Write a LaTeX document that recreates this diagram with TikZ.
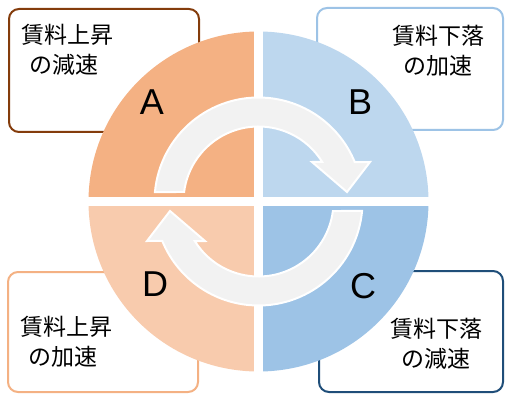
\documentclass[tikz,border=0pt]{standalone}
\usepackage{fontspec}
\newfontfamily\cjk{Noto Sans CJK JP}
\newfontfamily\latf{Liberation Sans}
\definecolor{qA}{HTML}{F4B183}
\definecolor{qB}{HTML}{BDD7EE}
\definecolor{qC}{HTML}{9DC3E6}
\definecolor{qD}{HTML}{F8CBAD}
\definecolor{bA}{HTML}{843C0C}
\definecolor{bB}{HTML}{9DC3E6}
\definecolor{bC}{HTML}{1F4E79}
\definecolor{bD}{HTML}{F4B183}
\definecolor{arrowgray}{HTML}{F2F2F2}
\begin{document}
\begin{tikzpicture}[x=1pt,y=1pt,
  box/.style={rounded corners=10pt, line width=2pt, fill=white},
  lbl/.style={font=\cjk\fontsize{23}{30}\selectfont, inner sep=0pt, text=black},
  letter/.style={font=\latf\fontsize{36}{36}\selectfont, inner sep=0pt, text=black},
  arr/.style={fill=arrowgray, draw=white, line width=2pt, line join=miter}]
\useasboundingbox (0,0) rectangle (505,394);
% boxes (behind the circle)
\draw[box, draw=bA] (9,262) rectangle (199,385);
\draw[box, draw=bB] (317,264) rectangle (503,386);
\draw[box, draw=bD] (8,2) rectangle (198,122);
\draw[box, draw=bC] (319,2) rectangle (503,123);
% circle quadrants
\coordinate (O) at (258.5,192.5);
\fill[qA] (O) -- ([shift={(90:170)}]O) arc[start angle=90,end angle=180,radius=170pt] -- cycle;
\fill[qB] (O) -- ([shift={(0:170)}]O) arc[start angle=0,end angle=90,radius=170pt] -- cycle;
\fill[qC] (O) -- ([shift={(270:170)}]O) arc[start angle=270,end angle=360,radius=170pt] -- cycle;
\fill[qD] (O) -- ([shift={(180:170)}]O) arc[start angle=180,end angle=270,radius=170pt] -- cycle;
% gaps
\draw[white, line width=9pt] ([yshift=173pt]O) -- ([yshift=-173pt]O);
\draw[white, line width=9pt] ([xshift=-173pt]O) -- ([xshift=173pt]O);
% top arrow
\draw[arr] ([shift={(174.8:104)}]O) arc[start angle=174.8,end angle=22.3,radius=104pt]
  -- ([shift={(111.5,39.5)}]O) -- ([shift={(88.5,9.5)}]O) -- ([shift={(53.5,39.5)}]O)
  -- ([shift={(31.8:75)}]O) arc[start angle=31.8,end angle=172.7,radius=75pt] -- cycle;
% bottom arrow
\draw[arr] ([shift={(354.8:104)}]O) arc[start angle=354.8,end angle=202.3,radius=104pt]
  -- ([shift={(-111.5,-39.5)}]O) -- ([shift={(-88.5,-9.5)}]O) -- ([shift={(-53.5,-39.5)}]O)
  -- ([shift={(211.8:75)}]O) arc[start angle=211.8,end angle=352.7,radius=75pt] -- cycle;
% letters
\node[letter] (la) at (152,292) {A};
\node[letter] (lb) at (360,292) {B};
\node[letter] (lc) at (363,108) {C};
\node[letter] (ld) at (155,110) {D};
% texts
\node[lbl, anchor=west, align=left] (ta) at (21,344) {賃料上昇\\\hspace{0.35em}の減速};
\node[lbl, align=center] (tb) at (438,343) {賃料下落\\の加速};
\node[lbl, align=center] (tc) at (436,50.5) {賃料下落\\の減速};
\node[lbl, anchor=west, align=left] (td) at (20,52) {賃料上昇\\\hspace{0.35em}の加速};
\end{tikzpicture}
\end{document}
